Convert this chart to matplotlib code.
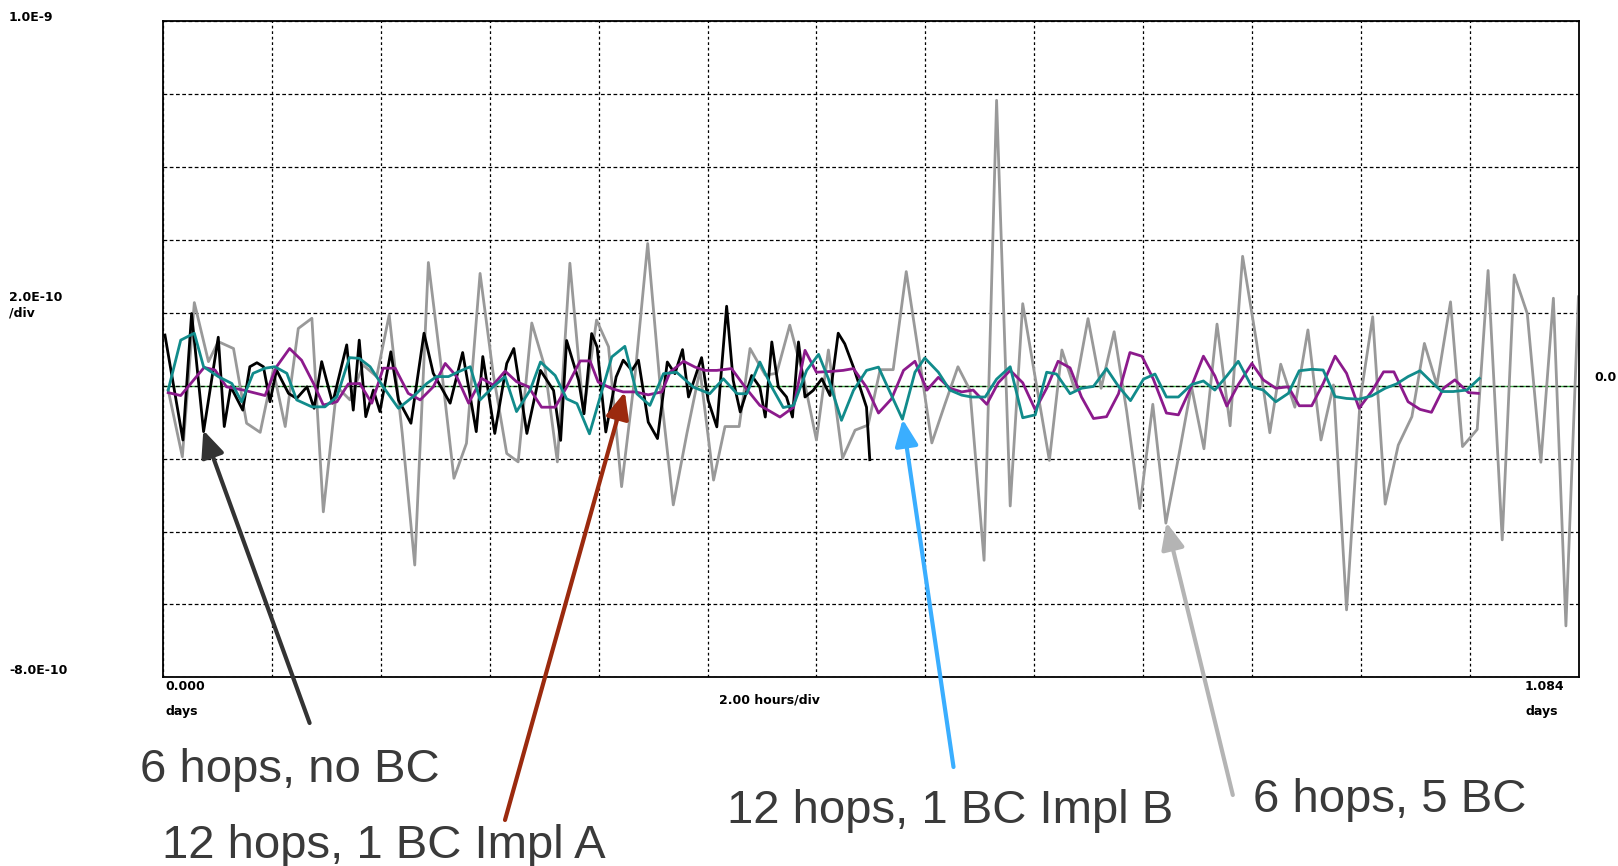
import matplotlib
matplotlib.use('Agg')
import matplotlib.pyplot as plt

# time in hours, values in units of 1E-10
t_gray = [0.09, 0.35, 0.57, 0.83, 1.01, 1.29, 1.53, 1.78, 2.02, 2.24, 2.48, 2.73, 2.94, 3.19, 3.43, 3.67, 3.92, 4.15, 4.39, 4.62, 4.87, 5.12, 5.34, 5.57, 5.82, 6.06, 6.31, 6.52,
          6.77, 7.01, 7.24, 7.47, 7.72, 7.96, 8.18, 8.42, 8.67, 8.90, 9.13, 9.37, 9.62, 9.86, 10.11, 10.32, 10.58, 10.78, 11.06, 11.27, 11.51, 11.76, 12.00, 12.22, 12.48, 12.71, 12.95,
          13.17, 13.41, 13.65, 13.89, 14.12, 14.36, 14.60, 14.82, 15.08, 15.31, 15.56, 15.79, 16.03, 16.28, 16.51, 16.75, 16.99, 17.23, 17.47, 17.70, 17.94, 18.18, 18.42, 18.65, 18.89, 19.12, 19.36, 19.60, 19.83,
          20.09, 20.33, 20.53, 20.79, 21.03, 21.27, 21.50, 21.74, 21.99, 22.22, 22.45, 22.69, 22.94, 23.17, 23.40, 23.65, 23.87, 24.14, 24.34, 24.60, 24.82, 25.06, 25.31, 25.54, 25.77, 26.00]
v_gray = [-0.12, -1.95, 2.28, 0.66, 1.21, 1.02, -1.03, -1.28, 0.43, -1.12, 1.57, 1.85, -3.46, -0.03, -0.39, 0.57, 0.25, 1.94, -1.31, -4.92, 3.38, 0.34, -2.54, -1.58, 3.08, 0.34, -1.86, -2.09,
          1.72, 0.51, -2.09, 3.36, -0.76, 1.80, 1.07, -2.77, 0.34, 3.90, -0.03, -3.27, -1.31, 0.43, -2.59, -1.12, -1.12, 1.02, 0.29, 0.34, 1.66, 0.25, -1.49, 0.98, -1.99, -1.22, -1.08,
          0.44, 0.44, 3.13, 0.76, -1.57, -0.51, 0.52, -0.12, -4.79, 7.83, -3.30, 2.25, 0.13, -2.05, 0.98, -0.12, 1.84, -0.07, 1.48, -0.70, -3.37, -0.51, -3.77, -1.98, -0.02, -1.73, 1.69, -1.10, 3.55,
          1.16, -1.29, 0.59, -0.59, 1.53, -1.49, 0.02, -6.15, -0.39, 1.89, -3.25, -1.63, -0.85, 1.16, 0.02, 2.30, -1.67, -1.20, 3.16, -4.23, 3.04, 1.98, -2.10, 2.40, -6.59, 2.44]

t_black = [0.03, 0.36, 0.52, 0.74, 1.01, 1.12, 1.24, 1.46, 1.59, 1.72, 1.84, 1.96, 2.08, 2.30, 2.45, 2.64, 2.77, 2.91, 3.11, 3.37, 3.49, 3.60, 3.72, 3.86, 3.98, 4.18, 4.32, 4.55, 4.79, 4.96, 5.27, 5.50, 5.75, 5.87, 6.09, 6.31, 6.44, 6.68,
           6.93, 7.17, 7.30, 7.41, 7.63, 7.73, 7.87, 7.97, 8.13, 8.32, 8.45, 8.61, 8.73, 8.91, 9.08, 9.26, 9.40, 9.54, 9.65, 9.89, 10.01, 10.17, 10.35, 10.47, 10.60, 10.81, 10.96, 11.06, 11.18, 11.30, 11.45, 11.56, 11.67, 11.79, 11.94, 12.10, 12.25, 12.40, 12.52, 12.68, 12.92, 12.98]
v_black = [1.39, -1.49, 1.98, -1.26, 1.33, -1.12, -0.03, -0.67, 0.52, 0.63, 0.52, -0.44, 0.43, -0.21, -0.35, -0.03, -0.62, 0.66, -0.48, 1.12, -0.67, 1.25, -0.85, -0.12, -0.71, 0.93, -0.39, -1.03, 1.44, 0.34, -0.48, 0.91, -1.26, 0.80, -1.31, 0.61, 1.02, -1.31,
           0.42, -0.13, -1.50, 1.24, 0.15, -0.77, 1.43, 1.06, -1.27, 0.24, 0.70, 0.42, 0.70, -1.00, -1.45, 0.65, 0.33, 0.99, -0.31, 0.77, -0.40, -1.13, 2.18, 0.15, -0.72, 0.28, -0.04, -0.86, 1.20, -0.04, -0.31, -0.86, 1.20, -0.31, -0.13, 0.19, -0.27, 1.44, 1.15, 0.51, -0.59, -2.03]

t_teal = [0.09, 0.32, 0.57, 0.74, 1.01, 1.26, 1.44, 1.65, 1.87, 2.05, 2.27, 2.45, 2.73, 2.97, 3.19, 3.42, 3.60, 3.80, 4.04, 4.32, 4.59, 4.84, 5.02, 5.24, 5.42, 5.64, 5.82, 6.06, 6.28, 6.49, 6.74,
          6.93, 7.20, 7.41, 7.60, 7.83, 8.24, 8.48, 8.70, 8.94, 9.19, 9.43, 9.74, 10.04, 10.29, 10.54, 10.72, 10.96, 11.18, 11.39, 11.58, 11.82, 12.04, 12.22, 12.46, 12.68, 12.92, 13.14,
          13.58, 13.81, 13.99, 14.24, 14.45, 14.67, 14.85, 15.10, 15.31, 15.56, 15.79, 16.02, 16.23, 16.41, 16.66, 16.87, 17.09, 17.33, 17.55, 17.77, 18.01, 18.22, 18.43, 18.65, 18.89, 19.11, 19.32, 19.54, 19.75,
          20.00, 20.21, 20.44, 20.67, 20.87, 21.10, 21.31, 21.53, 21.74, 21.97, 22.20, 22.45, 22.66, 22.87, 23.09, 23.33, 23.49, 23.70, 23.95, 24.18]
v_teal = [-0.12, 1.25, 1.44, 0.52, 0.25, 0.06, -0.44, 0.34, 0.48, 0.52, 0.34, -0.39, -0.58, -0.58, -0.30, 0.77, 0.75, 0.52, -0.03, -0.62, -0.30, 0.06, 0.25, 0.25, 0.38, 0.52, -0.39, -0.03, 0.25, -0.71, -0.12,
          0.65, 0.28, -0.36, -0.49, -1.32, 0.79, 1.08, -0.22, -0.54, 0.33, 0.37, -0.04, -0.22, 0.19, -0.22, -0.22, 0.65, -0.04, -0.60, -0.54, 0.42, 0.86, 0.19, -0.95, -0.13, 0.42, 0.51,
          -0.92, 0.37, 0.76, 0.37, -0.12, -0.26, -0.31, -0.31, 0.18, 0.52, -0.88, -0.80, 0.37, 0.32, -0.22, -0.07, -0.02, 0.47, -0.02, -0.41, 0.18, 0.32, -0.31, -0.31, 0.03, 0.13, -0.12, 0.27, 0.67,
          -0.03, -0.12, -0.44, -0.21, 0.41, 0.45, 0.43, -0.30, -0.35, -0.37, -0.28, -0.07, 0.05, 0.25, 0.41, 0.06, -0.16, -0.16, -0.12, 0.20]

t_purple = [0.09, 0.32, 0.75, 0.95, 1.16, 1.47, 1.87, 2.08, 2.32, 2.54, 2.76, 2.94, 3.19, 3.40, 3.61, 3.83, 4.04, 4.26, 4.50, 4.72, 4.96, 5.18, 5.39, 5.61, 5.85, 6.06, 6.28, 6.49, 6.71,
            6.95, 7.20, 7.41, 7.66, 7.84, 7.99, 8.24, 8.45, 8.67, 8.91, 9.16, 9.31, 9.56, 9.77, 9.95, 10.17, 10.44, 10.69, 10.96, 11.33, 11.58, 11.79, 12.00, 12.25, 12.49, 12.68, 12.92, 13.14,
            13.38, 13.60, 13.81, 14.03, 14.24, 14.45, 14.67, 14.88, 15.13, 15.34, 15.56, 15.79, 16.02, 16.23, 16.44, 16.66, 16.87, 17.09, 17.33, 17.55, 17.76, 17.98, 18.19, 18.43, 18.65, 18.89, 19.11, 19.32, 19.54, 19.75,
            20.00, 20.21, 20.44, 20.67, 20.87, 21.10, 21.31, 21.53, 21.74, 21.97, 22.20, 22.42, 22.61, 22.87, 23.09, 23.30, 23.52, 23.73, 23.98, 24.16]
v_purple = [-0.19, -0.27, 0.50, 0.43, -0.03, -0.12, -0.27, 0.52, 1.02, 0.70, 0.06, -0.53, -0.44, 0.05, 0.06, -0.48, 0.48, 0.48, -0.21, -0.39, -0.03, 0.61, 0.25, -0.48, 0.20, 0.02, 0.40, 0.11, -0.03,
            -0.59, -0.59, -0.04, 0.68, 0.68, 0.10, -0.08, -0.17, -0.17, -0.25, -0.17, 0.37, 0.67, 0.51, 0.42, 0.42, 0.47, -0.04, -0.54, -0.86, -0.59, 0.97, 0.37, 0.39, 0.42, 0.47, -0.04, -0.75,
            -0.36, 0.42, 0.67, -0.12, 0.23, -0.07, -0.17, -0.12, -0.51, 0.08, 0.42, 0.08, -0.66, -0.07, 0.67, 0.49, -0.31, -0.90, -0.85, -0.22, 0.91, 0.81, 0.18, -0.75, -0.80, -0.02, 0.81, 0.27, -0.56, 0.03,
            0.61, 0.16, -0.07, -0.03, -0.55, -0.55, 0.06, 0.81, 0.34, -0.62, -0.16, 0.38, 0.38, -0.44, -0.65, -0.73, -0.07, 0.16, -0.19, -0.21]

labels = ['6 hops, no BC', '12 hops, 1 BC Impl A', '12 hops, 1 BC Impl B', '6 hops, 5 BC']

W, H = 1618, 866
t_max = 26.016   # 1.084 days

fig = plt.figure(figsize=(W / 100, H / 100), dpi=100)
ax = fig.add_axes([163.3 / W, 1 - 677.3 / H, (1579.3 - 163.3) / W, (677.3 - 21.2) / H])

ax.set_xlim(0, t_max)
ax.set_ylim(-8, 10)
ax.set_xticks(range(0, 26, 2))
ax.set_yticks(range(-8, 11, 2))
ax.tick_params(length=0, labelbottom=False, labelleft=False)
ax.xaxis.grid(True, color='black', linestyle=(0, (2.2, 2.2)), lw=0.9)
ax.yaxis.grid(True, color='black', linestyle=(0, (3, 2)), lw=0.9)
for s in ax.spines.values():
  s.set_linewidth(1.3)
ax.axhline(0, color='#3cb043', lw=1.0, zorder=1.2)

ax.plot(t_gray, v_gray, color='#999999', lw=2.0, zorder=2)
ax.plot(t_black, v_black, color='black', lw=2.0, zorder=3)
ax.plot(t_purple, v_purple, color='#8c1a8c', lw=2.0, zorder=4)
ax.plot(t_teal, v_teal, color='#118b8b', lw=2.0, zorder=5)

def px_text(x, y, s, **kw):
  fig.text(x / W, 1 - y / H, s, **kw)

small = dict(family='DejaVu Sans', weight='bold', size=9, va='center', ha='left')
px_text(9, 17.5, '1.0E-9', **small)
px_text(9, 298, '2.0E-10', **small)
px_text(9, 313, '/div', **small)
px_text(9, 670, '-8.0E-10', **small)
px_text(1594, 377.5, '0.0', **small)
px_text(165, 686.5, '0.000', **small)
px_text(165, 711.5, 'days', **small)
px_text(1525, 686.5, '1.084', **small)
px_text(1525, 711.5, 'days', **small)
px_text(769, 700, '2.00 hours/div', family='DejaVu Sans', weight='bold', size=9, va='center', ha='center')

big = dict(family='Liberation Sans', size=34, color='#3a3a3a', ha='left', va='baseline')
px_text(140, 782, labels[0], **big)
px_text(162, 858, labels[1], **big)
px_text(727, 823, labels[2], **big)
px_text(1253, 812, labels[3], **big)

# arrows: tip on the curve (data), tail near the label (pixels)
arrows = [
  ((0.735, -1.22), (309.6, 723), '#333333'),
  ((8.48, -0.17), (505, 820), '#9b2a0e'),
  ((13.584, -0.92), (953.5, 767), '#3aaeff'),
  ((18.43, -3.75), (1232.8, 795), '#b4b4b4'),
]
for tip, tail, col in arrows:
  ax.annotate('', xy=tip, xycoords='data', xytext=(tail[0], H - tail[1]),
              textcoords='figure pixels', annotation_clip=False, zorder=10,
              arrowprops=dict(arrowstyle='-|>,head_length=0.8,head_width=0.35',
                              color=col, lw=3, shrinkA=0, shrinkB=0, mutation_scale=20))

fig.savefig('out.png', dpi=100)
